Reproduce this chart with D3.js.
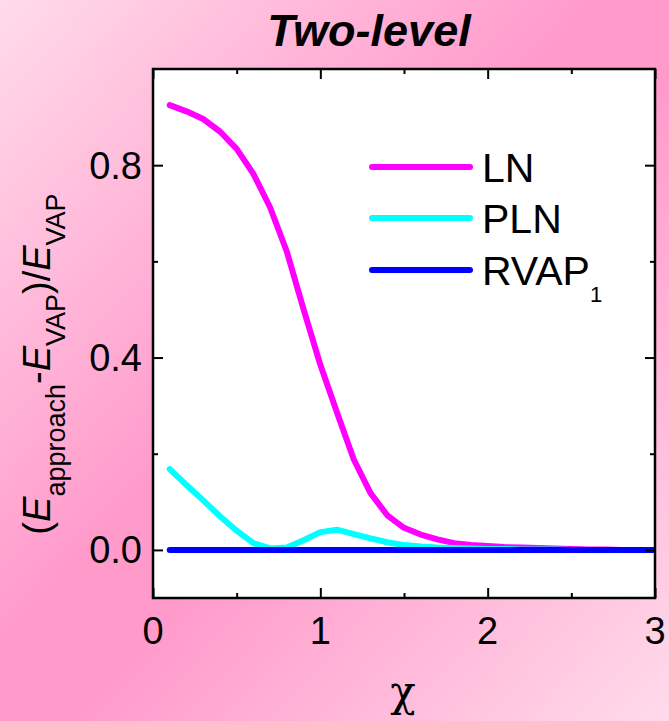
<!DOCTYPE html>
<html><head><meta charset="utf-8">
<script src="https://cdn.jsdelivr.net/npm/d3@7"></script>
<style>html,body{margin:0;padding:0;}svg{display:block;}</style>
</head><body>
<script>
const chi = [0.1,0.2,0.3,0.4,0.5,0.6,0.7,0.8,0.9,1.0,1.1,1.2,1.3,1.4,1.5,1.6,1.7,1.8,1.9,2.0,2.1,2.2,2.3,2.4,2.5,2.6,2.7,2.8,2.9,3.0];
const lnValues  = [0.925,0.912,0.896,0.870,0.834,0.782,0.712,0.620,0.500,0.385,0.285,0.188,0.118,0.072,0.046,0.032,0.022,0.014,0.010,0.008,0.006,0.005,0.004,0.003,0.002,0.001,0.001,0.0,0.0,0.0];
const plnValues = [0.168,0.135,0.103,0.070,0.040,0.014,0.003,0.005,0.020,0.037,0.042,0.033,0.024,0.016,0.010,0.007,0.005,0.004,0.003,0.002,0.002,0.001,0.001,0.001,0.0,0.0,0.0,0.0,0.0,0.0];
const rvapValues = chi.map(() => 0);
const seriesNames = ["LN","PLN","RVAP"];
const seriesColors = ["#ff00ff","#00ffff","#0000ff"];
const xMajor = [0,1,2,3], xMinor = [0.5,1.5,2.5];
const yMajor = [0.0,0.4,0.8], yMinor = [0.2,0.6];

const W = 669, H = 721;
const svg = d3.select("body").append("svg").attr("width", W).attr("height", H)
  .style("font-family", "Liberation Sans, Arial, sans-serif");

const defs = svg.append("defs");
const grad = defs.append("linearGradient").attr("id","bg")
  .attr("x1","0").attr("y1","0").attr("x2","1").attr("y2","1");
grad.append("stop").attr("offset","0%").attr("stop-color","#ffdbea");
grad.append("stop").attr("offset","45%").attr("stop-color","#ff9acb");
grad.append("stop").attr("offset","55%").attr("stop-color","#ff9acb");
grad.append("stop").attr("offset","100%").attr("stop-color","#ffdbea");
svg.append("rect").attr("width",W).attr("height",H).attr("fill","url(#bg)");

const L = 153, R = 655, T = 69, B = 598;
const x = d3.scaleLinear().domain([0,3]).range([L,R]);
const y = d3.scaleLinear().domain([-0.1,1.0]).range([B,T]);

svg.append("rect").attr("x",L).attr("y",T).attr("width",R-L).attr("height",B-T).attr("fill","#fff");

defs.append("clipPath").attr("id","clip").append("rect").attr("x",L).attr("y",T).attr("width",R-L).attr("height",B-T);

const line = d3.line().x(d=>x(d[0])).y(d=>y(d[1]));
const allSeries = [lnValues, plnValues, rvapValues];
const g = svg.append("g").attr("clip-path","url(#clip)");
allSeries.forEach((vals,i)=>{
  g.append("path").datum(chi.map((c,j)=>[c,vals[j]]))
    .attr("d", line).attr("fill","none").attr("stroke",seriesColors[i])
    .attr("stroke-width",6).attr("stroke-linecap","round").attr("stroke-linejoin","round");
});

function ax(axisFn, scale, vals, len, transform){
  return svg.append("g").attr("transform",transform)
    .call(axisFn(scale).tickValues(vals).tickSize(len).tickFormat(""))
    .call(s=>s.select(".domain").remove())
    .call(s=>s.selectAll("line").attr("stroke","#000").attr("stroke-width",2));
}
ax(d3.axisTop, x, xMajor, 10, `translate(0,${B})`);
ax(d3.axisTop, x, xMinor, 5, `translate(0,${B})`);
ax(d3.axisBottom, x, xMajor, 10, `translate(0,${T})`);
ax(d3.axisBottom, x, xMinor, 5, `translate(0,${T})`);
ax(d3.axisRight, y, yMajor, 10, `translate(${L},0)`);
ax(d3.axisRight, y, yMinor, 5, `translate(${L},0)`);
ax(d3.axisLeft, y, yMajor, 10, `translate(${R},0)`);
ax(d3.axisLeft, y, yMinor, 5, `translate(${R},0)`);
svg.append("rect").attr("x",L).attr("y",T).attr("width",R-L).attr("height",B-T)
  .attr("fill","none").attr("stroke","#000").attr("stroke-width",2.5);

svg.append("g").selectAll("text").data(xMajor).join("text")
  .attr("x",d=>x(d)).attr("y",644).attr("text-anchor","middle")
  .attr("font-size",38).text(d=>d3.format("d")(d));
svg.append("g").selectAll("text").data(yMajor).join("text")
  .attr("x",142).attr("y",d=>y(d)+13.5).attr("text-anchor","end")
  .attr("font-size",38).text(d=>d3.format(".1f")(d));

svg.append("text").attr("x",369).attr("y",46).attr("text-anchor","middle")
  .attr("font-size",45).attr("font-weight","bold").attr("font-style","italic").text("Two-level");

svg.append("text").attr("x",403).attr("y",706).attr("text-anchor","middle")
  .attr("font-size",42).attr("font-family","DejaVu Serif, serif").text("χ");

const yl = svg.append("text").attr("transform","translate(50,364) rotate(-90)")
  .attr("text-anchor","middle").attr("font-size",38);
yl.append("tspan").text("(");
yl.append("tspan").attr("font-style","italic").text("E");
yl.append("tspan").attr("font-size",27).attr("dy",15).text("approach");
yl.append("tspan").attr("dy",-15).text("-");
yl.append("tspan").attr("font-style","italic").text("E");
yl.append("tspan").attr("font-size",27).attr("dy",15).text("VAP");
yl.append("tspan").attr("dy",-15).text(")/");
yl.append("tspan").attr("font-style","italic").text("E");
yl.append("tspan").attr("font-size",27).attr("dy",15).text("VAP");

const legY = [167,218,270];
seriesNames.forEach((n,i)=>{
  svg.append("line").attr("x1",372).attr("x2",470).attr("y1",legY[i]).attr("y2",legY[i])
    .attr("stroke",seriesColors[i]).attr("stroke-width",6).attr("stroke-linecap","round");
  const t = svg.append("text").attr("x",482).attr("y",legY[i]+15).attr("font-size",41).text(n);
  if(n==="RVAP") t.append("tspan").attr("font-size",22).attr("dy",17).text("1");
});
</script>
</body></html>
